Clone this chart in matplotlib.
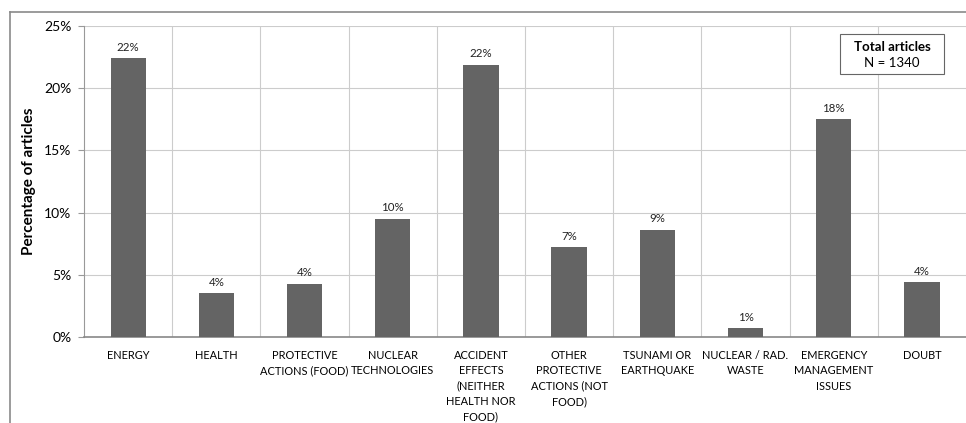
import matplotlib
matplotlib.use("Agg")
import matplotlib.pyplot as plt
from matplotlib.lines import Line2D
from matplotlib.ticker import FuncFormatter, MultipleLocator

plt.rcParams["font.family"] = ["Lato", "DejaVu Sans"]

categories = ["ENERGY", "HEALTH", "PROTECTIVE\nACTIONS (FOOD)", "NUCLEAR\nTECHNOLOGIES",
              "ACCIDENT\nEFFECTS\n(NEITHER\nHEALTH NOR\nFOOD)",
              "OTHER\nPROTECTIVE\nACTIONS (NOT\nFOOD)", "TSUNAMI OR\nEARTHQUAKE",
              "NUCLEAR / RAD.\nWASTE", "EMERGENCY\nMANAGEMENT\nISSUES", "DOUBT"]
share_pct = [22.4, 3.5, 4.3, 9.5, 21.9, 7.2, 8.6, 0.7, 17.5, 4.4]
n_total = 1340

fig = plt.figure(figsize=(9.66, 4.23), dpi=100)
ax = fig.add_axes([0.087, 0.2033, 0.913, 0.7352])

x = list(range(len(categories)))
ax.bar(x, share_pct, width=0.4, color="#646464", zorder=3)
for xi, v in zip(x, share_pct):
    ax.text(xi, v + 0.45, f"{v:.0f}%", ha="center", va="bottom", fontsize=8.3,
            color="#222222")

ax.set_xlim(-0.5, len(categories) - 0.5)
ax.set_ylim(0, 25)
ax.yaxis.set_major_locator(MultipleLocator(5))
ax.yaxis.set_major_formatter(FuncFormatter(lambda v, _: f"{v:.0f}%"))
ax.set_xticks(x)
ax.set_xticklabels(categories, fontsize=7.9, linespacing=1.5)
ax.set_xticks([i + 0.5 for i in x[:-1]], minor=True)
ax.tick_params(axis="x", which="both", length=0, pad=9)
ax.tick_params(axis="y", labelsize=10, length=4, color="#999999", pad=5)

ax.grid(axis="y", color="#cccccc", lw=0.8, zorder=0)
ax.grid(axis="x", which="minor", color="#cccccc", lw=0.8, zorder=0)
for side in ("top", "right"):
    ax.spines[side].set_visible(False)
ax.spines["left"].set_color("#999999")
ax.spines["bottom"].set_color("#888888")
ax.spines["bottom"].set_linewidth(1.2)

ax.set_ylabel("Percentage of articles", fontsize=11, fontweight="bold", labelpad=6)

ax.text(0.916, 0.932, "Total articles", transform=ax.transAxes, ha="center",
        va="center", fontsize=9.5, fontweight="bold", zorder=6)
ax.text(0.916, 0.881, f"N = {n_total}", transform=ax.transAxes, ha="center",
        va="center", fontsize=9.5, zorder=6)
ax.add_patch(plt.Rectangle((0.857, 0.846), 0.118, 0.128, transform=ax.transAxes,
                           facecolor="white", edgecolor="#666666", lw=0.8, zorder=5))

# chart-area frame, only top and left edges are on the canvas
fig.add_artist(Line2D([10 / 966, 1.0], [1 - 12 / 423] * 2, color="#8a8a8a", lw=1.2))
fig.add_artist(Line2D([10 / 966] * 2, [0.0, 1 - 12 / 423], color="#8a8a8a", lw=1.2))

fig.savefig("out.png", dpi=100)
